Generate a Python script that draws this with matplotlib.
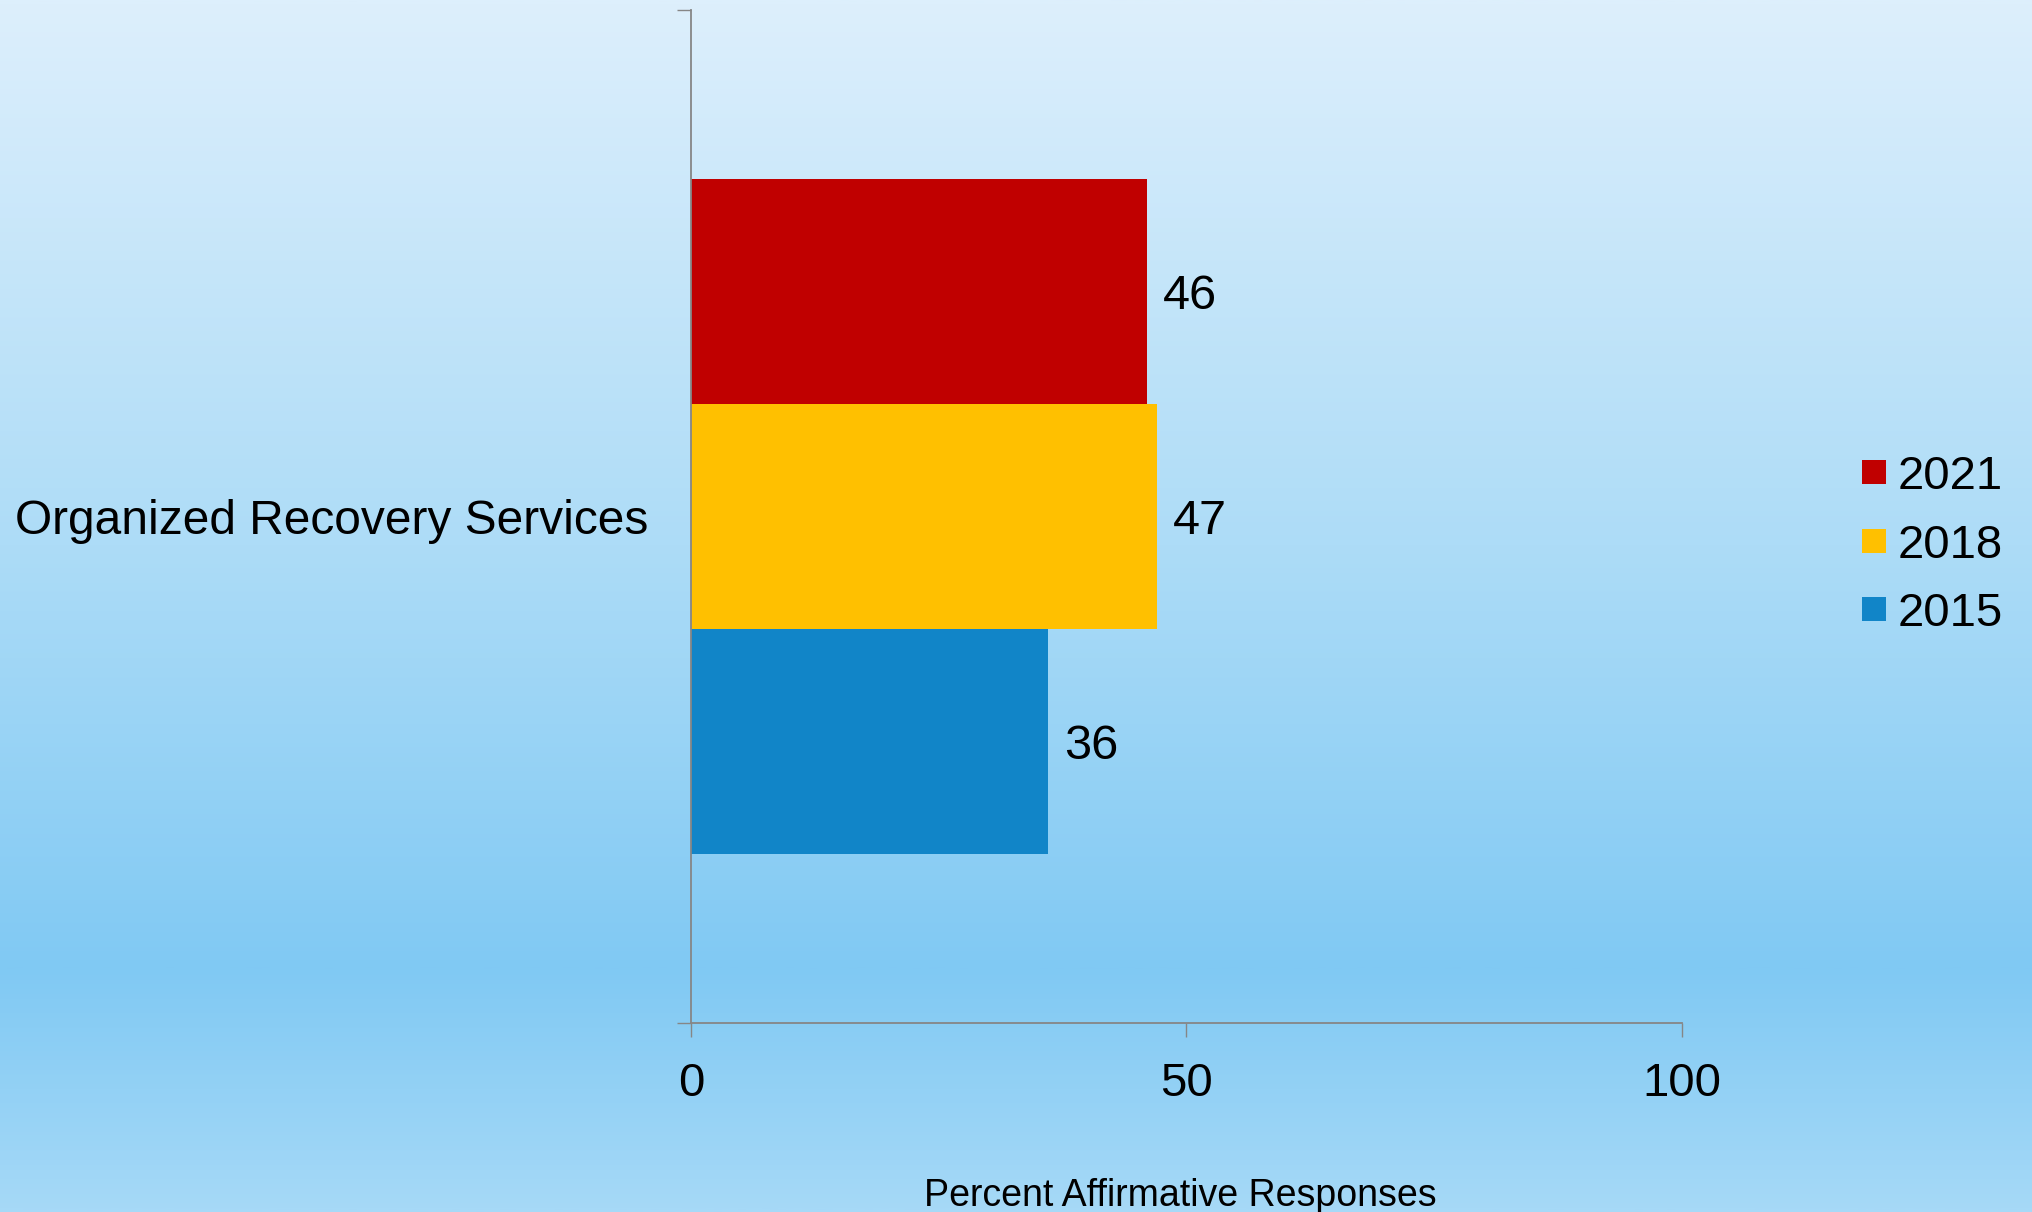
import numpy as np
import matplotlib
matplotlib.use("Agg")
import matplotlib.pyplot as plt
from matplotlib.colors import LinearSegmentedColormap

plt.rcParams['font.family'] = ['Liberation Sans', 'DejaVu Sans']

# data
categories = ["Organized Recovery Services"]
years = ["2021", "2018", "2015"]
values = [46, 47, 36]
colors = ["#C00000", "#FFC000", "#1185C8"]
xticks = [0, 50, 100]
xlabel = "Percent Affirmative Responses"

fig = plt.figure(figsize=(20.33, 12.12), dpi=100)

# background gradient (top -> bottom)
bg = fig.add_axes([0, 0, 1, 1], zorder=-10)
cmap = LinearSegmentedColormap.from_list(
    "bg", [(0.0, "#ddeffc"), (0.45, "#addcf7"), (0.8, "#80c9f3"), (1.0, "#a6d9f7")])
grad = np.linspace(0, 1, 512).reshape(-1, 1)
bg.imshow(grad, aspect="auto", cmap=cmap, extent=[0, 1, 1, 0])
bg.set_axis_off()

ax = fig.add_axes([0.3399, 0.1559, 0.8273 - 0.3399, 0.99175 - 0.1559])
ax.set_facecolor("none")

h = 0.222
offsets = [h, 0, -h]
bars = []
for year, val, col, off in zip(years, values, colors, offsets):
    b = ax.barh([off], [val], height=h, color=col, label=year)
    for t in ax.bar_label(b, padding=11.5, fontsize=35):
        t.set_va("center_baseline")
    bars.append(b)

ax.set_xlim(0, 100)
ax.set_ylim(-0.5, 0.5)
ax.set_xticks(xticks)
ax.set_yticks([-0.5, 0.5], ["", ""])
ax.set_yticks([0], categories, minor=True)

for side in ("top", "right"):
    ax.spines[side].set_visible(False)
for side in ("left", "bottom"):
    ax.spines[side].set_color("#868686")
    ax.spines[side].set_linewidth(1.3)

ax.tick_params(axis="both", which="major", direction="out", length=10,
               width=1.0, color="#868686", labelsize=34, pad=18)
ax.tick_params(axis="y", which="minor", length=0, pad=31, labelsize=34.5)
ax.set_xlabel(xlabel, fontsize=27, labelpad=52, x=0.4935)

fig.legend(handles=bars, labels=years, loc="center left",
           bbox_to_anchor=(0.9159, 0.5498), frameon=False, fontsize=34,
           handlelength=0.5, handleheight=0.4, handletextpad=0.25,
           labelspacing=0.52, borderpad=0, borderaxespad=0)

fig.savefig("out.png", dpi=100)
